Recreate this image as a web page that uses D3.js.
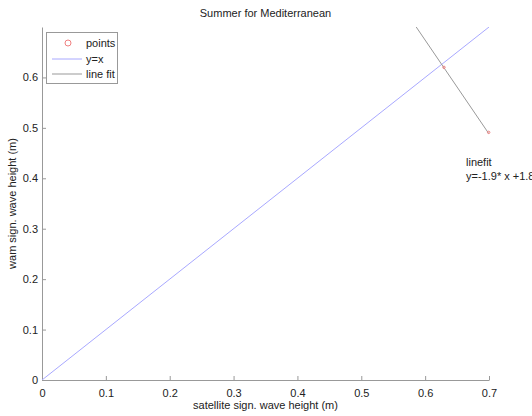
<!DOCTYPE html>
<html>
<head>
<meta charset="utf-8">
<script src="https://cdn.jsdelivr.net/npm/d3@7"></script>
<style>
  body { margin: 0; background: #fff; }
  text { font-family: "Liberation Sans", Arial, sans-serif; fill: #222; }
</style>
</head>
<body>
<svg id="chart" width="532" height="416"></svg>
<script>
// data
const pointsX = [0.6295, 0.6995];
const pointsY = [0.620, 0.491];
const diagX = [0, 0.7];
const fitSlope = -1.86;
const fitIntercept = 1.79;
const xTicks = [0, 0.1, 0.2, 0.3, 0.4, 0.5, 0.6, 0.7];
const yTicks = [0, 0.1, 0.2, 0.3, 0.4, 0.5, 0.6];
const legendLabels = ["points", "y=x", "line fit"];
const fitText = ["linefit", "y=-1.9* x +1.8"];

const svg = d3.select("#chart");
const mLeft = 42, mRight = 489, mTop = 27, mBottom = 380;

const x = d3.scaleLinear().domain([0, 0.7]).range([mLeft, mRight]);
const y = d3.scaleLinear().domain([0, 0.7]).range([mBottom, mTop]);

const axisColor = "#999";

svg.append("defs").append("clipPath").attr("id", "plotclip")
    .append("rect")
    .attr("x", mLeft).attr("y", mTop)
    .attr("width", mRight - mLeft).attr("height", mBottom - mTop);

// axes, ticks point inward
const xAxis = svg.append("g")
    .attr("transform", "translate(0," + mBottom + ")")
    .call(d3.axisBottom(x).tickValues(xTicks).tickSizeInner(-4).tickSizeOuter(0)
        .tickPadding(9).tickFormat(d => d === 0 ? "0" : d3.format(".1f")(d)));
const yAxis = svg.append("g")
    .attr("transform", "translate(" + mLeft + ",0)")
    .call(d3.axisLeft(y).tickValues(yTicks).tickSizeInner(-4).tickSizeOuter(0)
        .tickPadding(4).tickFormat(d => d === 0 ? "0" : d3.format(".1f")(d)));

[xAxis, yAxis].forEach(g => {
    g.select(".domain").attr("stroke", axisColor);
    g.selectAll(".tick line").attr("stroke", axisColor);
    g.selectAll(".tick text").style("font-size", "11px").attr("fill", "#222");
});

const plot = svg.append("g").attr("clip-path", "url(#plotclip)");

// y = x
plot.append("path")
    .datum(diagX)
    .attr("d", d3.line().x(d => x(d)).y(d => y(d)))
    .attr("stroke", "#a8a8ff")
    .attr("stroke-width", 1)
    .attr("fill", "none");

// linear fit
const fitLine = d3.line()
    .x(d => x(d))
    .y(d => y(fitSlope * d + fitIntercept));
plot.append("path")
    .datum([0.5, d3.max(pointsX)])
    .attr("d", fitLine)
    .attr("stroke", "#999")
    .attr("stroke-width", 1)
    .attr("fill", "none");

// points
svg.selectAll(".pt")
    .data(pointsX.map((v, i) => [v, pointsY[i]]))
    .enter().append("circle")
    .attr("class", "pt")
    .attr("cx", d => x(d[0]))
    .attr("cy", d => y(d[1]))
    .attr("r", 1.2)
    .attr("fill", "none")
    .attr("stroke", "#f08080")
    .attr("stroke-width", 1);

// title and labels
svg.append("text")
    .attr("x", (mLeft + mRight) / 2).attr("y", 17)
    .attr("text-anchor", "middle")
    .style("font-size", "11px")
    .text("Summer for Mediterranean");

svg.append("text")
    .attr("x", (mLeft + mRight) / 2).attr("y", 409)
    .attr("text-anchor", "middle")
    .style("font-size", "11px")
    .text("satellite sign. wave height (m)");

svg.append("text")
    .attr("transform", "translate(16," + (mTop + mBottom) / 2 + ") rotate(-90)")
    .attr("text-anchor", "middle")
    .style("font-size", "11px")
    .text("wam sign. wave height (m)");

// fit annotation
svg.selectAll(".fit-note")
    .data(fitText)
    .enter().append("text")
    .attr("class", "fit-note")
    .attr("x", 466)
    .attr("y", (d, i) => 166 + i * 14)
    .style("font-size", "11px")
    .text(d => d);

// legend
const legend = svg.append("g");
legend.append("rect")
    .attr("x", 46.5).attr("y", 32.5)
    .attr("width", 71).attr("height", 51)
    .attr("fill", "#fff")
    .attr("stroke", "#999");

const rowY = [43, 59, 74];
legendLabels.forEach((lab, i) => {
    if (i === 0) {
        legend.append("circle")
            .attr("cx", 68).attr("cy", rowY[i])
            .attr("r", 3)
            .attr("fill", "none")
            .attr("stroke", "#f08080");
    } else {
        legend.append("line")
            .attr("x1", 52).attr("x2", 82)
            .attr("y1", rowY[i]).attr("y2", rowY[i])
            .attr("stroke", i === 1 ? "#a8a8ff" : "#999");
    }
    legend.append("text")
        .attr("x", 86).attr("y", rowY[i] + 4)
        .style("font-size", "11px")
        .text(lab);
});
</script>
</body>
</html>
